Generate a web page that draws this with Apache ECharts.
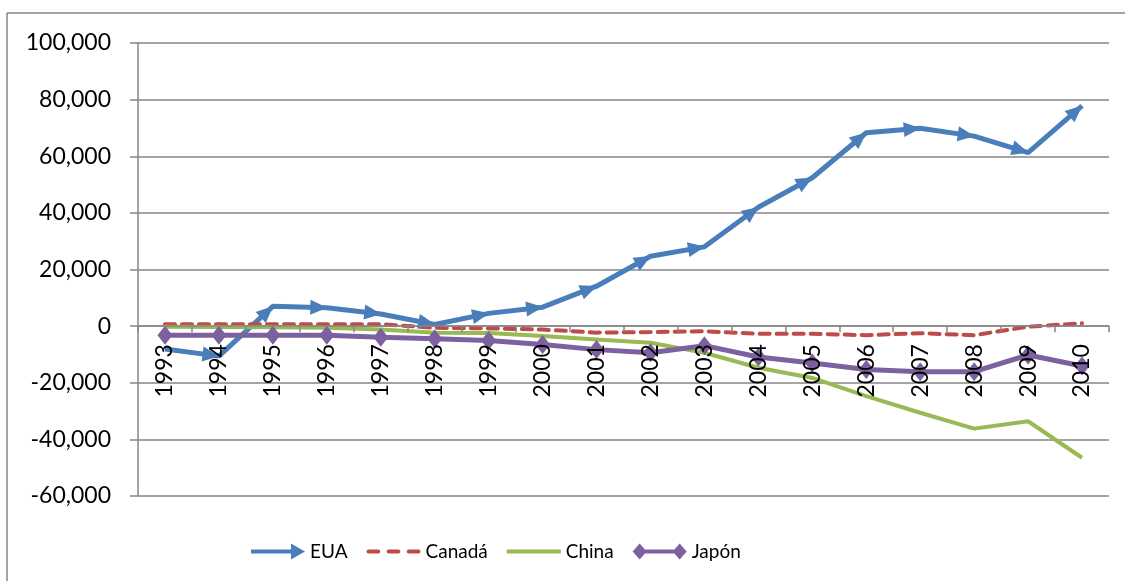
<!DOCTYPE html>
<html>
<head>
<meta charset="utf-8">
<script src="https://cdn.jsdelivr.net/npm/echarts@6/dist/echarts.min.js"></script>
<style>
  html, body { margin: 0; padding: 0; background: #fff; }
  #chart { width: 1125px; height: 581px; }
</style>
</head>
<body>
<div id="chart"></div>
<script>
// years on the x axis
var years = ['1993','1994','1995','1996','1997','1998','1999','2000','2001',
             '2002','2003','2004','2005','2006','2007','2008','2009','2010'];

// values
var eua    = [-8100, -10600, 7000, 6500, 4300, 600, 4500, 6700, 14100,
              24700, 28000, 42000, 52400, 68300, 69900, 67100, 61300, 77800];
var canada = [700, 700, 700, 700, 700, -600, -800, -1200, -2300,
              -2100, -1800, -2700, -2700, -3200, -2500, -3200, -200, 1000];
var china  = [-200, -300, -400, -600, -1200, -2300, -2400, -3500, -4700,
              -5900, -9400, -14700, -18300, -24700, -30600, -36200, -33600, -46500];
var japon  = [-3200, -3200, -3200, -3200, -3900, -4500, -5100, -6500, -8300,
              -9400, -6900, -10900, -13000, -15300, -16100, -16100, -10200, -14100];

var yTicks = { min: -60000, max: 100000, step: 20000 };

var font = 'Lato, "Open Sans", sans-serif';
var gridColor = '#868686';

var gridTop = 43, gridBottom = 85, chartH = 581;
// the category axis sits on the zero line
var plotH = chartH - gridTop - gridBottom;
var zeroShift = plotH * (0 - yTicks.min) / (yTicks.max - yTicks.min);

var myChart = echarts.init(document.getElementById('chart'));

var option = {
    animation: false,
    backgroundColor: '#fff',
    textStyle: { fontFamily: font },
    graphic: [
        { type: 'line', shape: { x1: 7, y1: 13, x2: 1125, y2: 13 }, style: { stroke: gridColor, lineWidth: 1.5 } },
        { type: 'line', shape: { x1: 7, y1: 13, x2: 7, y2: 581 }, style: { stroke: gridColor, lineWidth: 1.5 } }
    ],
    grid: { left: 138, right: 16, top: gridTop, bottom: gridBottom, containLabel: false },
    legend: {
        left: 246,
        top: 537,
        itemWidth: 54,
        itemHeight: 16,
        itemGap: 19,
        textStyle: { fontSize: 19, color: '#000', fontFamily: font },
        data: [
            { name: 'EUA', icon: 'path://M0,6 L40,6 L40,0 L54,8 L40,16 L40,10 L0,10 Z' },
            { name: 'Canadá', icon: 'path://M2,0h9a2,2 0 0 1 0,4h-9a2,2 0 0 1 0,-4z M21,0h9a2,2 0 0 1 0,4h-9a2,2 0 0 1 0,-4z M40,0h9a2,2 0 0 1 0,4h-9a2,2 0 0 1 0,-4z' },
            { name: 'China', icon: 'path://M0,0h54v4h-54z' },
            { name: 'Japón', icon: 'path://M0,8 L7,0 L14,8 L7,16 Z M47,0 L54,8 L47,16 L40,8 Z M7,6 L47,6 L47,10 L7,10 Z' }
        ]
    },
    xAxis: {
        type: 'category',
        data: years,
        boundaryGap: true,
        offset: -zeroShift,
        zlevel: 1,
        z: 10,
        axisLine: { onZero: false, lineStyle: { color: gridColor, width: 1.5 } },
        axisTick: { show: true, length: 6, lineStyle: { color: gridColor, width: 1.5 } },
        axisLabel: { rotate: 90, fontSize: 23, color: '#000', margin: 18, fontFamily: font },
        splitLine: { show: false }
    },
    yAxis: {
        type: 'value',
        min: yTicks.min,
        max: yTicks.max,
        interval: yTicks.step,
        axisLine: { show: true, lineStyle: { color: gridColor, width: 1.5 } },
        axisTick: { show: true, length: 8, lineStyle: { color: gridColor, width: 1.5 } },
        axisLabel: {
            fontSize: 23, color: '#000', margin: 27, fontFamily: font,
            formatter: function (v) { return v.toLocaleString('en-US'); }
        },
        splitLine: { show: true, lineStyle: { color: gridColor, width: 1.5 } }
    },
    series: [
        {
            name: 'EUA', type: 'line', data: eua,
            lineStyle: { color: '#4a7ebb', width: 5 },
            itemStyle: { color: '#4a7ebb' },
            symbol: 'triangle', symbolSize: [15, 17],
            showSymbol: true
        },
        {
            name: 'Canadá', type: 'line', data: canada,
            lineStyle: { color: '#be4b48', width: 4, type: [10, 7], cap: 'round' },
            itemStyle: { color: '#be4b48' },
            symbol: 'none'
        },
        {
            name: 'China', type: 'line', data: china,
            lineStyle: { color: '#98b954', width: 4 },
            itemStyle: { color: '#98b954' },
            symbol: 'none'
        },
        {
            name: 'Japón', type: 'line', data: japon,
            lineStyle: { color: '#7d60a0', width: 5 },
            itemStyle: { color: '#7d60a0' },
            symbol: 'diamond', symbolSize: [15, 19],
            showSymbol: true
        }
    ]
};

myChart.setOption(option);

// turn each EUA triangle along its incoming segment, tip on the point
var euaData = eua.map(function (v, i) {
    if (i === 0) return { value: v, symbol: 'none' };
    var a = myChart.convertToPixel({ xAxisIndex: 0, yAxisIndex: 0 }, [i - 1, eua[i - 1]]);
    var b = myChart.convertToPixel({ xAxisIndex: 0, yAxisIndex: 0 }, [i, v]);
    var dx = b[0] - a[0], dy = b[1] - a[1];
    var len = Math.sqrt(dx * dx + dy * dy);
    var ux = dx / len, uy = dy / len;
    var ang = Math.atan2(-dy, dx) * 180 / Math.PI;
    return {
        value: v,
        symbolRotate: ang - 90,
        symbolOffset: [-ux * 8, -uy * 8]
    };
});

myChart.setOption({ series: [{ name: 'EUA', data: euaData }] });
</script>
</body>
</html>
